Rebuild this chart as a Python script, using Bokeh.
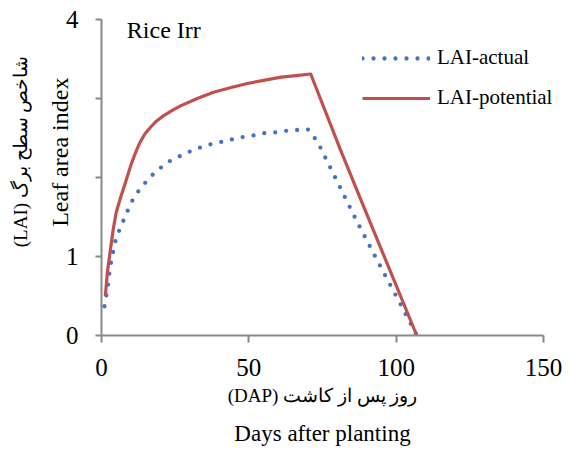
from bokeh.plotting import figure
from bokeh.models import Range1d, Label, Legend, LegendItem, FixedTicker
from bokeh.embed import file_html
from bokeh.resources import INLINE
from math import pi

# Leaf area index of irrigated rice, simulated actual vs potential
dap_actual = [1, 1.7, 2.3, 2.7, 3.3, 4, 4.75, 6, 7.5, 9, 10.5, 12.6, 15, 17.5,
              20.3, 23.3, 26.6, 30, 33.5, 37, 40.6, 44, 47.7, 51.3, 55, 58.8,
              62.5, 66, 70, 72, 74, 80.5, 87, 94, 101, 107]
lai_actual = [0.37, 0.52, 0.66, 0.80, 0.94, 1.07, 1.20, 1.33, 1.46, 1.59, 1.71,
              1.83, 1.94, 2.04, 2.13, 2.21, 2.27, 2.33, 2.38, 2.42, 2.45, 2.48,
              2.51, 2.53, 2.56, 2.57, 2.59, 2.60, 2.61, 2.52, 2.40, 1.91, 1.42,
              0.92, 0.43, 0.0]

dap_potential = [1.3, 2, 3, 4, 5, 6.5, 8, 10, 11.5, 13, 14.7, 16.5, 18.5, 21,
                 24, 27, 32.5, 38, 44, 49.5, 55, 61, 66, 71, 81, 88, 107]
lai_potential = [0.50, 0.80, 1.08, 1.35, 1.56, 1.75, 1.92, 2.16, 2.31, 2.44,
                 2.55, 2.63, 2.71, 2.78, 2.85, 2.91, 3.00, 3.08, 3.14, 3.19,
                 3.23, 3.27, 3.29, 3.31, 2.36, 1.72, 0.0]

x_ticks = [0, 50, 100, 150]
y_ticks = [0, 1, 2, 3, 4]
y_tick_labels = {0: "0", 1: "1", 2: "", 3: "", 4: "4"}

SERIF = "Liberation Serif"
AXIS_GREY = "#888888"
BLUE = "#4472C4"
RED = "#C0504D"

# The plotting frame covers the whole canvas; the axes sit at x=0 / y=0
# and only span the data extent, leaving room for the titles around them.
W, H = 571, 450
LEFT, RIGHT, TOP, BOTTOM = 101, 543, 19, 335
XMAX, YMAX = 150, 4
kx = XMAX / (RIGHT - LEFT)
ky = YMAX / (BOTTOM - TOP)

p = figure(width=W, height=H, output_backend="svg", toolbar_location=None,
           x_range=Range1d(-LEFT * kx, XMAX + (W - RIGHT) * kx),
           y_range=Range1d(-(H - BOTTOM) * ky, YMAX + TOP * ky),
           min_border=0)
p.outline_line_color = None
p.xgrid.visible = False
p.ygrid.visible = False
p.background_fill_color = "white"
p.border_fill_color = "white"

for ax in (p.xaxis[0], p.yaxis[0]):
    ax.fixed_location = 0
    ax.axis_line_color = AXIS_GREY
    ax.axis_line_width = 2
    ax.major_tick_line_color = AXIS_GREY
    ax.major_tick_line_width = 2
    ax.minor_tick_line_color = None
    ax.major_tick_in = 0
    ax.major_label_text_font = SERIF
    ax.major_label_text_font_size = "25px"
    ax.major_label_text_color = "black"

p.xaxis[0].bounds = (0, XMAX)
p.xaxis[0].ticker = FixedTicker(ticks=x_ticks)
p.xaxis[0].major_tick_out = 7
p.xaxis[0].major_label_standoff = 16
p.yaxis[0].bounds = (0, YMAX)
p.yaxis[0].ticker = FixedTicker(ticks=y_ticks)
p.yaxis[0].major_label_overrides = y_tick_labels
p.yaxis[0].major_tick_out = 6
p.yaxis[0].major_label_standoff = 17

r_act = p.line(dap_actual, lai_actual, line_color=BLUE, line_width=4.3,
               line_dash="0 11", line_cap="round", line_join="round")
r_pot = p.line(dap_potential, lai_potential, line_color=RED, line_width=3.2,
               line_join="round")

legend = Legend(items=[LegendItem(label="LAI-actual", renderers=[r_act]),
                       LegendItem(label="LAI-potential", renderers=[r_pot])],
                location=(362, 340), orientation="vertical",
                glyph_width=68, glyph_height=20, label_height=20,
                label_standoff=7, spacing=15, padding=0, margin=0,
                border_line_color=None, background_fill_alpha=0,
                label_text_font=SERIF, label_text_font_size="21px",
                label_text_color="black")
p.add_layout(legend)

def add_label(text, x, y, size, angle=0.0, align="left"):
    p.add_layout(Label(x=x, y=y, text=text, angle=angle,
                       text_font=SERIF, text_font_size=size,
                       text_color="black", text_align=align,
                       text_baseline="alphabetic"))

add_label("Rice Irr", 8.6, 3.867, "24px")
add_label("Leaf area index", -14.2, 2.32, "24px", angle=pi / 2, align="center")
add_label("(LAI) شاخص سطح برگ", -27.6, 2.33, "19px", angle=pi / 2, align="center")
add_label("(DAP) روز پس از کاشت", 75, -0.76, "19px", align="center")
add_label("Days after planting", 75, -1.24, "23px", align="center")

open("out.html", "w").write(file_html(p, INLINE))
